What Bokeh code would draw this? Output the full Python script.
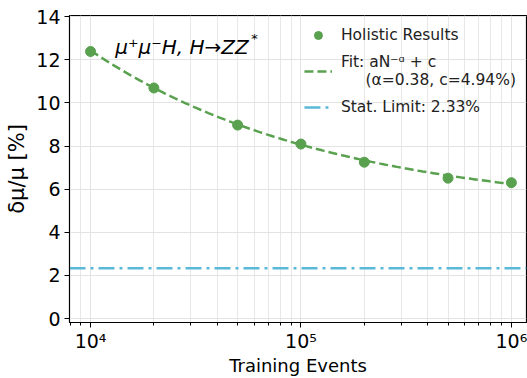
import numpy as np
from bokeh.plotting import figure
from bokeh.models import Range1d, Legend, LegendItem, Label, FixedTicker
from bokeh.embed import file_html
from bokeh.resources import INLINE

# data
events = [1e4, 2e4, 5e4, 1e5, 2e5, 5e5, 1e6]
resolution = [12.38, 10.69, 8.97, 8.09, 7.25, 6.51, 6.30]
fit_alpha = 0.38
fit_c = 4.94
fit_a = 248.0
stat_limit = 2.33
x_ticks = [1e4, 1e5, 1e6]
x_tick_labels = ["10⁴", "10⁵", "10⁶"]
y_ticks = [0, 2, 4, 6, 8, 10, 12, 14]

GREEN = "#59a14f"
BLUE = "#5ab9d8"
FONT = "DejaVu Sans"

p = figure(width=527, height=378, x_axis_type="log", output_backend="svg",
           toolbar_location=None,
           x_range=Range1d(7943, 1.18e6), y_range=Range1d(-0.18, 14.05),
           min_border_left=69, min_border_right=1, min_border_top=15, min_border_bottom=55)

p.outline_line_color = "black"
p.outline_line_width = 1.2
p.background_fill_color = "white"
p.border_fill_color = "white"

# grids
p.xgrid.grid_line_color = "#e3e3e3"
p.xgrid.minor_grid_line_color = "#e8e8e8"
p.ygrid.grid_line_color = "#e3e3e3"

# fit curve
xf = np.logspace(4, 6, 200)
yf = fit_a * xf ** (-fit_alpha) + fit_c
r_fit = p.line(xf, yf, line_color=GREEN, line_width=2.5, line_dash="9 4")

# stat limit
xs = np.logspace(np.log10(7943), np.log10(1.18e6), 2)
r_stat = p.line(xs, [stat_limit] * 2, line_color=BLUE, line_width=2.5, line_dash="16 5 3 5")

# points
r_pts = p.scatter(events, resolution, size=10, color=GREEN)

# axes
for ax in (p.xaxis[0], p.yaxis[0]):
    ax.axis_line_color = "black"
    ax.major_tick_line_color = "black"
    ax.minor_tick_line_color = "black"
    ax.major_label_text_font = FONT
    ax.major_label_text_font_size = "19px"
    ax.major_label_text_color = "black"
    ax.axis_label_text_font = FONT
    ax.axis_label_text_font_size = "18px"
    ax.axis_label_text_font_style = "normal"
    ax.axis_label_text_color = "black"
    ax.major_tick_out = 5
    ax.major_tick_in = 0
    ax.minor_tick_out = 3
    ax.minor_tick_in = 0
    ax.major_label_standoff = 4

p.xaxis.ticker = FixedTicker(ticks=x_ticks, minor_ticks=[
    m * 10 ** e for e in (3, 4, 5, 6) for m in range(2, 10)])
p.xaxis.major_label_overrides = {t: l for t, l in zip(x_ticks, x_tick_labels)}
p.xaxis.axis_label = "Training Events"
p.xaxis.major_label_standoff = 2
p.xaxis.axis_label_standoff = 0
p.yaxis.ticker = FixedTicker(ticks=y_ticks)
p.yaxis.minor_tick_line_color = None
p.yaxis.axis_label = "δμ/μ [%]"
p.yaxis.axis_label_text_font_size = "21px"
p.yaxis.axis_label_standoff = 4

# legend
legend = Legend(items=[
    LegendItem(label="Holistic Results", renderers=[r_pts]),
    LegendItem(label="Fit: aN⁻ᵅ + c\n     (α=0.38, c=4.94%)", renderers=[r_fit]),
    LegendItem(label="Stat. Limit: 2.33%", renderers=[r_stat]),
], location="top_right")
legend.border_line_color = None
legend.background_fill_alpha = 0.0
legend.label_text_font = FONT
legend.label_text_font_size = "15.5px"
legend.label_text_color = "#222222"
legend.glyph_width = 28
legend.spacing = 8
legend.margin = 10
legend.padding = 5
legend.label_standoff = 9
p.add_layout(legend)

# annotation
p.add_layout(Label(x=1.31e4, y=12.57, text="μ⁺μ⁻H, H→ZZ", text_font=FONT,
                   text_font_style="italic", text_font_size="20px",
                   text_color="black", text_baseline="alphabetic"))
p.add_layout(Label(x=5.8e4, y=13.0, text="*", text_font=FONT,
                   text_font_size="13px", text_color="black",
                   text_baseline="alphabetic"))

open("out.html", "w").write(file_html(p, INLINE))
